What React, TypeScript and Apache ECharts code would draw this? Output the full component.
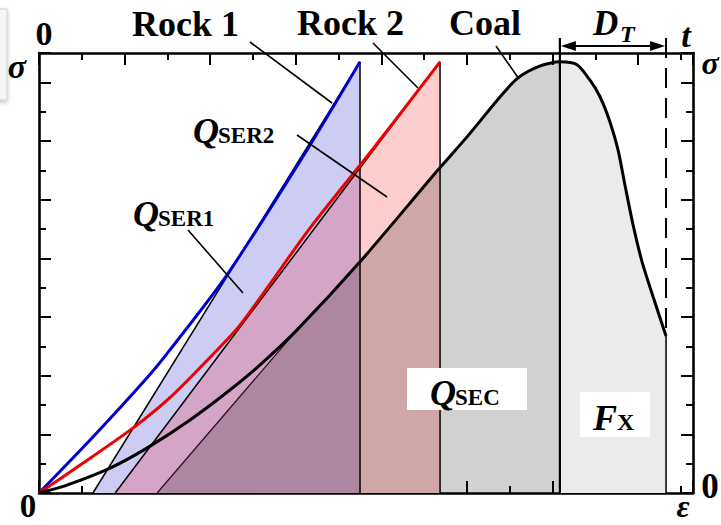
import React, { useEffect, useRef } from "react";
import * as echarts from "echarts";

// Axis extents (strain ε on x, stress σ on y, arbitrary units)
const X_MAX = 15.28;
const Y_MAX = 15;

// Loading curves, [strain, stress]
const rock1Curve = [
  [0, 0], [1.26, 1.91], [2.52, 3.92], [3.06, 4.88], [4.39, 7.43], [6.26, 11.69], [7.5, 14.7],
];
const rock2Curve = [
  [0, 0], [1.03, 1.02], [2.2, 2.22], [3.06, 3.25], [3.88, 4.45], [4.7, 5.73], [6.3, 8.97],
  [7.82, 11.76], [9.37, 14.7],
];
const coalCurve = [
  [0, 0], [0.65, 0.27], [1.66, 0.85], [2.52, 1.53], [3.53, 2.49], [4.46, 3.51], [5.16, 4.36],
  [6.03, 5.56], [7.5, 7.88], [9.32, 11.01], [10.0, 12.14], [10.77, 13.5], [11.19, 14.15],
  [11.71, 14.56], [12.17, 14.7], [12.57, 14.6], [12.87, 14.08], [13.11, 13.5], [13.34, 12.65],
  [13.53, 11.69], [13.69, 10.5], [13.88, 9.14], [14.09, 7.88], [14.35, 6.68], [14.65, 5.35],
];

// Peak points and unloading (residual strain) points
const peakStress = 14.7;
const rock1Peak = 7.5;
const rock2Peak = 9.37;
const coalPeak = 12.17;
const rock1Residual = 1.26;
const rock2Residual = 1.78;
const coalResidual = 2.76;
const coalUnloadTop = [6.03, 5.56]; // where the coal unloading line meets the curve
const coalEnd = coalCurve[coalCurve.length - 1];

const FONT = '"Liberation Serif", "Times New Roman", serif';

// Rock 2 unloading line evaluated at a given strain
const rock2LineStress = (x: number) =>
  (peakStress * (x - rock2Residual)) / (rock2Peak - rock2Residual);

function label(text: string, x: number, baseline: number, size: number, italic = false, align = "left") {
  return {
    type: "text",
    x,
    y: baseline - 0.34 * size,
    z: 20,
    silent: true,
    style: {
      text,
      fontFamily: FONT,
      fontSize: size,
      fontWeight: "bold",
      fontStyle: italic ? "italic" : "normal",
      fill: "#000",
      align,
      verticalAlign: "middle",
    },
  };
}

function pointer(x1: number, y1: number, x2: number, y2: number) {
  return {
    type: "line",
    z: 20,
    silent: true,
    shape: { x1, y1, x2, y2 },
    style: { stroke: "#000", lineWidth: 1.6 },
  };
}

function whiteBox(x: number, y: number, width: number, height: number) {
  return { type: "rect", z: 19, silent: true, shape: { x, y, width, height }, style: { fill: "#fff" } };
}

function makeAxes(kind: "x" | "y") {
  const base = {
    type: "value",
    min: 0,
    max: kind === "x" ? X_MAX : Y_MAX,
    axisLabel: { show: false },
    splitLine: { show: false },
  };
  const positions = kind === "x" ? ["bottom", "top"] : ["left", "right"];
  const minor = positions.map((position) => ({
    ...base,
    position,
    interval: 1,
    axisLine: { show: true, onZero: false, lineStyle: { color: "#000", width: 2.6 } },
    axisTick: { show: true, inside: true, length: 7, lineStyle: { color: "#000", width: 2 } },
  }));
  const major = positions.map((position) => ({
    ...base,
    position,
    interval: 2,
    axisLine: { show: false, onZero: false },
    axisTick: { show: true, inside: true, length: 12, lineStyle: { color: "#000", width: 2 } },
  }));
  return [...minor, ...major];
}

function line(data: number[][], color: string, width: number, smooth = false) {
  return {
    type: "line",
    data,
    symbol: "none",
    silent: true,
    z: 5,
    smooth: smooth ? 0.25 : false,
    lineStyle: { color, width },
  };
}

export default function App() {
  const ref = useRef<HTMLDivElement>(null);

  useEffect(() => {
    if (!ref.current) return;
    const chart = echarts.init(ref.current, undefined, { renderer: "svg" });

    const unloadIdx = coalCurve.findIndex((p) => p[0] === coalUnloadTop[0] && p[1] === coalUnloadTop[1]);
    const peakIdx = coalCurve.findIndex((p) => p[0] === coalPeak);

    const fillSeries = {
      type: "custom",
      coordinateSystem: "cartesian2d",
      silent: true,
      z: 2,
      data: [[0, 0]],
      renderItem: (_params: any, api: any) => {
        const poly = (pts: number[][], fill: string) => ({
          type: "polygon",
          shape: { points: pts.map((p) => api.coord(p)) },
          style: { fill, stroke: "none" },
        });
        const overlapTop = rock2LineStress(rock1Peak);
        const coalBody = [[coalResidual, 0], ...coalCurve.slice(unloadIdx, peakIdx + 1), [coalPeak, 0]];
        const coalTail = [[coalPeak, 0], ...coalCurve.slice(peakIdx), [coalEnd[0], 0]];
        return {
          type: "group",
          children: [
            poly([[rock1Residual, 0], [rock1Peak, peakStress], [rock1Peak, 0]], "#cdcdf3"),
            poly([[rock2Residual, 0], [rock2Peak, peakStress], [rock2Peak, 0]], "#fdcccc"),
            poly([[rock2Residual, 0], [rock1Peak, overlapTop], [rock1Peak, 0]], "#d4a5c6"),
            poly(coalBody, "rgba(0,0,0,0.18)"),
            poly(coalTail, "#ebebeb"),
          ],
        };
      },
    };

    // Peak marker, post-peak dashed boundary and the D_T span arrow
    const spanSeries = {
      type: "custom",
      coordinateSystem: "cartesian2d",
      silent: true,
      clip: false,
      z: 8,
      data: [[0, 0]],
      renderItem: (_params: any, api: any) => {
        const [xPeak, yBottom] = api.coord([coalPeak, 0]);
        const [xEnd, yEndCurve] = api.coord(coalEnd);
        const yTop = api.coord([0, Y_MAX])[1];
        const barTop = yTop - 15;
        const arrowY = yTop - 7;
        const ln = (x1: number, y1: number, x2: number, y2: number, w: number, dash?: number[]) => ({
          type: "line",
          shape: { x1, y1, x2, y2 },
          style: { stroke: "#000", lineWidth: w, lineDash: dash || null },
        });
        const head = (tip: number, dir: number) => ({
          type: "polygon",
          shape: { points: [[tip, arrowY], [tip + dir * 15, arrowY - 5], [tip + dir * 15, arrowY + 5]] },
          style: { fill: "#000" },
        });
        return {
          type: "group",
          children: [
            ln(xPeak, barTop, xPeak, yBottom, 2.2),
            ln(xEnd, barTop, xEnd, yEndCurve, 2, [20, 10]),
            ln(xEnd, yEndCurve, xEnd, yBottom, 1.5),
            ln(xPeak + 10, arrowY, xEnd - 10, arrowY, 2),
            head(xPeak + 1, 1),
            head(xEnd - 1, -1),
          ],
        };
      },
    };

    const option = {
      animation: false,
      backgroundColor: "#fff",
      grid: { left: 39, right: 28, top: 53, bottom: 32 },
      xAxis: makeAxes("x"),
      yAxis: makeAxes("y"),
      series: [
        fillSeries,
        line([[rock1Residual, 0], [rock1Peak, peakStress]], "#000", 1.5),
        line([[rock2Residual, 0], [rock2Peak, peakStress]], "#000", 1.5),
        line([[coalResidual, 0], coalUnloadTop], "#2a0a1a", 1.2),
        line([[rock1Peak, 0], [rock1Peak, peakStress]], "#000", 1.5),
        line([[rock2Peak, 0], [rock2Peak, peakStress]], "#000", 1.5),
        line(rock1Curve, "#0000cc", 3, true),
        line(rock2Curve, "#ee0000", 3, true),
        line(coalCurve, "#000", 3, true),
        spanSeries,
      ],
      graphic: [
        {
          type: "rect",
          z: 18,
          silent: true,
          shape: { x: -8, y: 9, width: 15, height: 91 },
          style: { fill: "#f6f6f6", stroke: "#cfcfcf", lineWidth: 1, shadowBlur: 4, shadowColor: "rgba(0,0,0,0.25)", shadowOffsetY: 2 },
        },
        // axis end markers
        label("0", 44, 45, 34, false, "center"),
        label("σ", 17, 78, 34, true, "center"),
        label("0", 28, 517, 33, false, "center"),
        label("ε", 683, 517, 32, true, "center"),
        label("0", 710, 498, 35, false, "center"),
        label("σ", 710, 74, 32, true, "center"),
        label("t", 686, 47, 34, true, "center"),
        label("D", 593, 35, 35, true),
        label("T", 620, 42, 24, true),
        // material names
        label("Rock 1", 132, 36, 36),
        label("Rock 2", 297, 35, 36),
        label("Coal", 449, 35, 36),
        pointer(250, 42, 332, 103),
        pointer(373, 43, 418, 88),
        pointer(496, 46, 519, 79),
        // energy labels
        label("Q", 193, 143, 36, true),
        label("SER2", 218, 143, 23),
        pointer(297, 135, 387, 197),
        label("Q", 133, 226, 36, true),
        label("SER1", 158, 226, 23),
        pointer(188, 230, 243, 293),
        whiteBox(407, 368, 120, 42),
        label("Q", 430, 405, 36, true),
        label("SEC", 455, 405, 23),
        whiteBox(580, 392, 70, 45),
        label("F", 593, 430, 36, true),
        label("X", 617, 430, 24),
      ],
    };

    chart.setOption(option as any);
    return () => chart.dispose();
  }, []);

  return (
    <div
      ref={ref}
      style={{ position: "fixed", left: 0, top: 0, width: 721, height: 525, background: "#fff" }}
    />
  );
}
